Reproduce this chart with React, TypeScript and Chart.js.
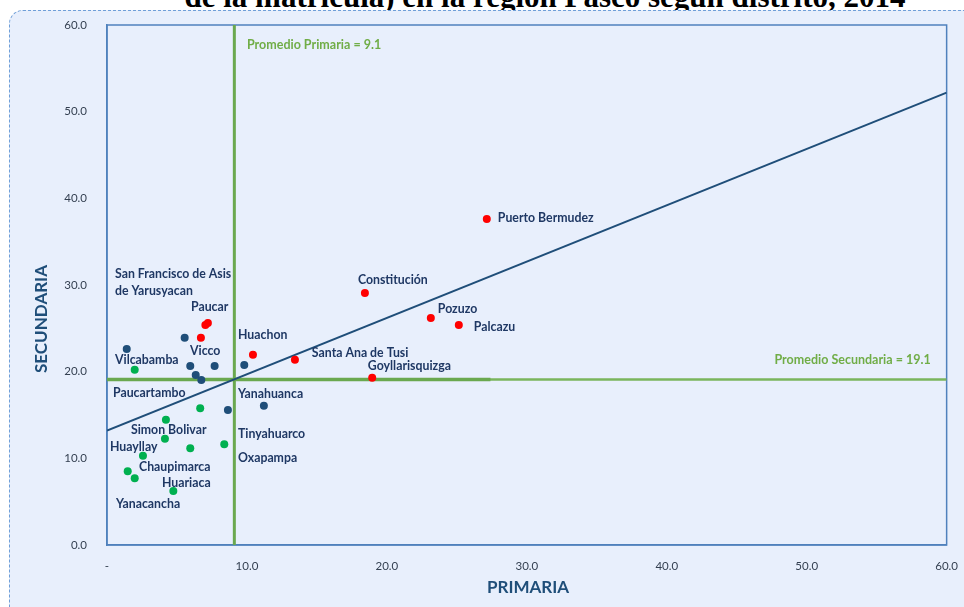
import React, { useEffect, useRef } from "react";
import { Chart, registerables } from "chart.js";

Chart.register(...registerables);

// ---- Data (PRIMARIA = x, SECUNDARIA = y) ----
const redX = [27.14, 18.43, 23.14, 25.14, 10.43, 13.43, 18.95, 7.03, 7.21, 6.71];
const redY = [37.61, 29.08, 26.19, 25.38, 21.96, 21.38, 19.3, 25.38, 25.61, 23.92];

const blueX = [1.41, 5.55, 5.95, 7.69, 6.34, 6.74, 9.81, 8.64, 11.21];
const blueY = [22.61, 23.92, 20.65, 20.65, 19.61, 19.04, 20.77, 15.58, 16.07];

const greenX = [1.98, 6.66, 4.21, 4.14, 5.95, 8.38, 2.57, 1.48, 1.98, 4.74];
const greenY = [20.23, 15.77, 14.46, 12.27, 11.16, 11.62, 10.3, 8.5, 7.7, 6.23];

const avgPrimaria = 9.1;
const avgSecundaria = 19.1;
const trendX = [0, 60];
const trendY = [13.2, 52.2];
const avgSecEndX = 27.4;

const xTicks = [0, 10, 20, 30, 40, 50, 60];
const yTicks = [0, 10, 20, 30, 40, 50, 60];

const districtNames = [
  "Puerto Bermudez", "Constitución", "Pozuzo", "Palcazu", "Huachon",
  "Santa Ana de Tusi", "Goyllarisquizga", "San Francisco de Asis", "de Yarusyacan",
  "Paucar", "Vicco", "Vilcabamba", "Paucartambo", "Yanahuanca", "Simon Bolivar",
  "Tinyahuarco", "Huayllay", "Oxapampa", "Chaupimarca", "Huariaca", "Yanacancha",
];
const nameX = [
  27.93, 17.93, 23.64, 26.21, 9.36,
  14.64, 18.64, 0.57, 0.57,
  6.0, 5.93, 0.57, 0.43, 9.36, 1.71,
  9.36, 0.21, 9.36, 2.29, 3.93, 0.64,
];
const nameY = [
  37.73, 30.58, 27.23, 25.15, 24.23,
  22.15, 20.65, 31.27, 29.31,
  27.46, 22.38, 21.35, 17.54, 17.42, 13.27,
  12.81, 11.31, 10.04, 9.0, 7.15, 4.73,
];

const titleText = "de la matrícula) en la región Pasco según distrito, 2014";
const xTitle = "PRIMARIA";
const yTitle = "SECUNDARIA";
const avgPrimLabel = "Promedio Primaria = 9.1";
const avgSecLabel = "Promedio Secundaria = 19.1";

const toPts = (xs: number[], ys: number[]) => xs.map((x, i) => ({ x, y: ys[i] }));

const NAVY = "#1f3864";
const AXIS_BLUE = "#1f4e79";
const GREEN = "#70ad47";

export default function App() {
  const ref = useRef<HTMLCanvasElement | null>(null);

  useEffect(() => {
    if (!ref.current) return;

    const decor = {
      id: "decor",
      beforeDatasetsDraw(chart: any) {
        const { ctx, chartArea: a } = chart;
        ctx.save();
        ctx.strokeStyle = "#4f81bd";
        ctx.lineWidth = 1.5;
        ctx.strokeRect(a.left, a.top, a.right - a.left, a.bottom - a.top);
        ctx.restore();
      },
      afterDatasetsDraw(chart: any) {
        const { ctx, scales } = chart;
        const xs = scales.x, ys = scales.y;
        ctx.save();
        ctx.font = "bold 12.3px Lato";
        ctx.fillStyle = NAVY;
        ctx.textBaseline = "middle";
        ctx.textAlign = "left";
        districtNames.forEach((t, i) => {
          ctx.fillText(t, xs.getPixelForValue(nameX[i]), ys.getPixelForValue(nameY[i]));
        });
        ctx.fillStyle = GREEN;
        ctx.font = "bold 12.5px Lato";
        ctx.fillText(avgPrimLabel, xs.getPixelForValue(10.0), ys.getPixelForValue(57.69));
        ctx.textAlign = "right";
        ctx.fillText(avgSecLabel, xs.getPixelForValue(58.86), ys.getPixelForValue(21.35));

        // axis titles
        ctx.fillStyle = AXIS_BLUE;
        ctx.font = "bold 17px Lato";
        ctx.textAlign = "center";
        ctx.fillText(xTitle, 528, 588);
        ctx.translate(42, 319);
        ctx.rotate(-Math.PI / 2);
        ctx.fillText(yTitle, 0, 0);
        ctx.restore();
      },
    };

    const line = (data: any[], color: string, width: number) => ({
      type: "scatter" as const,
      data,
      showLine: true,
      borderColor: color,
      backgroundColor: color,
      borderWidth: width,
      pointRadius: 0,
    });

    const chart = new Chart(ref.current, {
      type: "scatter",
      data: {
        datasets: [
          { data: toPts(redX, redY), backgroundColor: "#ff0000", borderWidth: 0, pointRadius: 4 },
          { data: toPts(blueX, blueY), backgroundColor: "#1f4e79", borderWidth: 0, pointRadius: 4 },
          { data: toPts(greenX, greenY), backgroundColor: "#00b050", borderWidth: 0, pointRadius: 4 },
          line(toPts(trendX, trendY), "#1f4e79", 2),
          line([{ x: 0, y: avgSecundaria }, { x: avgSecEndX, y: avgSecundaria }], "#6aa84f", 3.5),
          line([{ x: 0, y: avgSecundaria }, { x: 60, y: avgSecundaria }], "#7ab55c", 2.5),
          line([{ x: avgPrimaria, y: 0 }, { x: avgPrimaria, y: 60 }], "#6aa84f", 3),
        ] as any,
      },
      options: {
        responsive: false,
        animation: false,
        events: [],
        layout: { padding: { left: 0, top: 25, right: 8, bottom: 0 } },
        plugins: { legend: { display: false }, tooltip: { enabled: false } },
        scales: {
          x: {
            type: "linear",
            min: 0,
            max: 60,
            grid: { display: false },
            border: { display: true, color: "#4f81bd", width: 1.5 },
            afterBuildTicks: (s: any) => { s.ticks = xTicks.map((v) => ({ value: v })); },
            afterFit: (s: any) => { s.height = 62; },
            ticks: {
              padding: 6,
              color: "#333f50",
              font: { family: "Lato", size: 11.5 },
              callback: (v: any) => (Number(v) === 0 ? "-" : Number(v).toFixed(1)),
            },
          },
          y: {
            type: "linear",
            min: 0,
            max: 60,
            grid: { display: false },
            border: { display: true, color: "#4f81bd", width: 1.5 },
            afterBuildTicks: (s: any) => { s.ticks = yTicks.map((v) => ({ value: v })); },
            afterFit: (s: any) => { s.width = 107; },
            ticks: {
              padding: 12,
              color: "#333f50",
              font: { family: "Lato", size: 11.5 },
              callback: (v: any) => Number(v).toFixed(1),
            },
          },
        },
      },
      plugins: [decor],
    } as any);

    return () => chart.destroy();
  }, []);

  return (
    <div style={{ position: "fixed", left: 0, top: 0, width: 964, height: 607, overflow: "hidden", background: "#ffffff" }}>
      <div
        style={{
          position: "absolute",
          left: 0,
          width: 964,
          top: -19,
          textAlign: "center",
          paddingLeft: 126,
          boxSizing: "border-box",
          font: "bold 31px 'Liberation Serif', serif",
          lineHeight: "31px",
          color: "#000",
          whiteSpace: "nowrap",
        }}
      >
        {titleText}
      </div>
      <div
        style={{
          position: "absolute",
          left: 9,
          top: 10,
          width: 980,
          height: 620,
          border: "1px dashed #6f9fd8",
          borderRadius: 14,
          background: "#e8effc",
          boxSizing: "border-box",
        }}
      />
      <canvas ref={ref} width={964} height={607} style={{ position: "absolute", left: 0, top: 0, width: 964, height: 607 }} />
    </div>
  );
}
